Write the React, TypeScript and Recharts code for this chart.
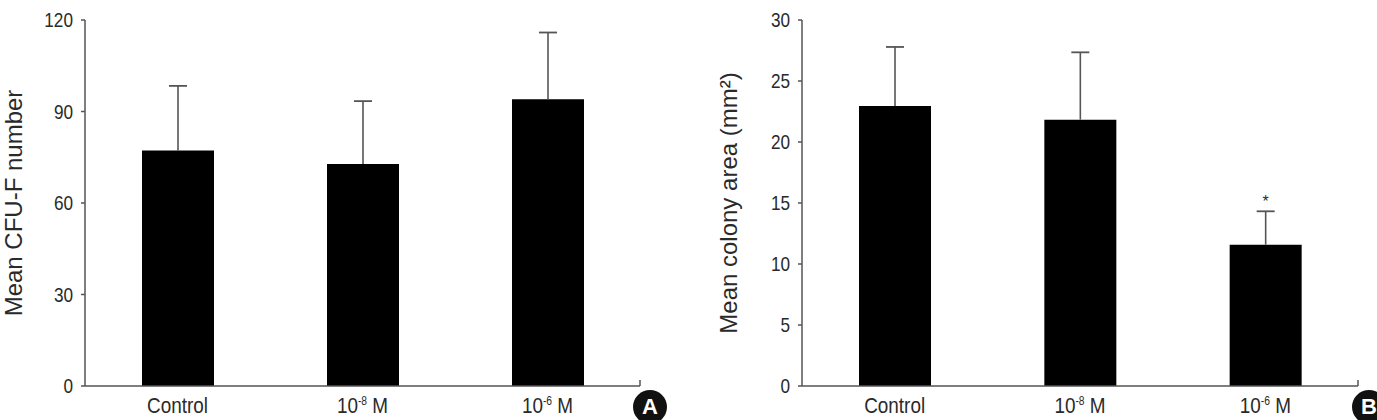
import React from 'react';
import { BarChart, Bar, XAxis, YAxis, ReferenceLine, LabelList } from 'recharts';

// ---- data ----
const categories = ['Control', '10-8 M', '10-6 M'];

const cfuMean = [77.2, 72.8, 94.0];
const cfuSem = [21.2, 20.6, 21.9];

const areaMean = [22.95, 21.83, 11.58];
const areaSem = [4.84, 5.52, 2.74];
const areaSig = ['', '', '*'];

const cfuTicks = [0, 30, 60, 90, 120];
const areaTicks = [0, 5, 10, 15, 20, 25, 30];

const cfuData = categories.map((name, i) => ({ name, mean: cfuMean[i], err: cfuSem[i], sig: '' }));
const areaData = categories.map((name, i) => ({ name, mean: areaMean[i], err: areaSem[i], sig: areaSig[i] }));

// ---- styles ----
const SANS = '"Liberation Sans", Arial, sans-serif';
const AXIS = '#555';
const TEXT = '#2a2a2a';
const NARROW_SCALE = 0.86;

const ErrorShape = (props: any) => {
  const { x, y, width, height } = props;
  if (x == null || y == null) return null;
  const cx = x + width / 2;
  return (
    <g>
      <line x1={cx} x2={cx} y1={y + height} y2={y} stroke="#555" strokeWidth={1.6} />
      <line x1={cx - 9} x2={cx + 9} y1={y} y2={y} stroke="#555" strokeWidth={1.8} />
    </g>
  );
};

const XTick = (props: any) => {
  const { x, y, payload } = props;
  const v: string = String(payload.value);
  const m = /^10(-\d+) (.*)$/.exec(v);
  return (
    <g transform={`translate(${x},${y}) scale(${NARROW_SCALE},1)`}>
      <text x={0} y={0} dy="0.71em" textAnchor="middle" fill={TEXT} fontSize={22} fontFamily={SANS}>
        {m ? (
          <>
            <tspan>10</tspan>
            <tspan dy={-8} fontSize={12}>{m[1]}</tspan>
            <tspan dy={8}>{' ' + m[2]}</tspan>
          </>
        ) : (
          v
        )}
      </text>
    </g>
  );
};

const YTick = (props: any) => {
  const { x, y, payload } = props;
  return (
    <g transform={`translate(${x},${y}) scale(${NARROW_SCALE},1)`}>
      <text x={0} y={0} dy="0.355em" textAnchor="end" fill={TEXT} fontSize={20} fontFamily={SANS}>
        {payload.value}
      </text>
    </g>
  );
};

type PanelProps = {
  data: any[];
  ticks: number[];
  domainMax: number;
  label: string;
  labelOffset: number;
  yAxisWidth: number;
  width: number;
  endTick: number;
  marginRight: number;
};

const Panel = ({ data, ticks, domainMax, label, labelOffset, yAxisWidth, width, endTick, marginRight }: PanelProps) => (
  <BarChart
    width={width}
    height={420}
    data={data}
    margin={{ top: 20, right: marginRight, bottom: 4, left: 0 }}
  >
    <XAxis
      dataKey="name"
      height={30}
      axisLine={{ stroke: AXIS, strokeWidth: 1.5 }}
      tickLine={false}
      tickSize={6}
      tickMargin={5}
      tick={<XTick />}
      interval={0}
    />
    <YAxis
      width={yAxisWidth}
      domain={[0, domainMax]}
      ticks={ticks}
      interval={0}
      axisLine={{ stroke: AXIS, strokeWidth: 1.5 }}
      tickLine={{ stroke: AXIS, strokeWidth: 1.5 }}
      tickSize={4}
      tickMargin={8}
      tick={<YTick />}
      label={{
        value: label,
        angle: -90,
        position: 'insideLeft',
        offset: labelOffset,
        style: { textAnchor: 'middle', fill: TEXT, fontSize: 24, fontFamily: SANS },
      }}
    />
    <Bar dataKey="mean" stackId="s" fill="#000" barSize={72} isAnimationActive={false} />
    <Bar dataKey="err" stackId="s" fill="none" barSize={72} shape={<ErrorShape />} isAnimationActive={false}>
      <LabelList dataKey="sig" position="top" offset={4} fill={TEXT} fontSize={16} fontFamily={SANS} />
    </Bar>
    <ReferenceLine
      segment={[
        { x: categories[categories.length - 1], y: 0 },
        { x: categories[categories.length - 1], y: endTick },
      ]}
      position="end"
      ifOverflow="visible"
      stroke={AXIS}
      strokeWidth={1.5}
    />
  </BarChart>
);

const Badge = ({ letter, left }: { letter: string; left: number }) => (
  <div
    style={{
      position: 'absolute',
      left,
      top: 390,
      width: 34,
      height: 34,
      borderRadius: 17,
      background: '#111',
      color: '#fff',
      fontFamily: SANS,
      fontWeight: 'bold',
      fontSize: 22,
      lineHeight: '34px',
      textAlign: 'center',
    }}
  >
    {letter}
  </div>
);

export default function App() {
  return (
    <div
      style={{
        position: 'absolute',
        left: 0,
        top: 0,
        width: 1377,
        height: 420,
        background: '#fff',
        overflow: 'hidden',
      }}
    >
      <div style={{ position: 'absolute', left: 0, top: 0 }}>
        <Panel
          data={cfuData}
          ticks={cfuTicks}
          domainMax={120}
          label="Mean CFU-F number"
          labelOffset={13}
          yAxisWidth={85}
          width={660}
          endTick={2}
          marginRight={20}
        />
      </div>
      <div style={{ position: 'absolute', left: 700, top: 0 }}>
        <Panel
          data={areaData}
          ticks={areaTicks}
          domainMax={30}
          label="Mean colony area (mm²)"
          labelOffset={28}
          yAxisWidth={102}
          width={677}
          endTick={0.5}
          marginRight={19}
        />
      </div>
      <Badge letter="A" left={633} />
      <Badge letter="B" left={1352} />
    </div>
  );
}
